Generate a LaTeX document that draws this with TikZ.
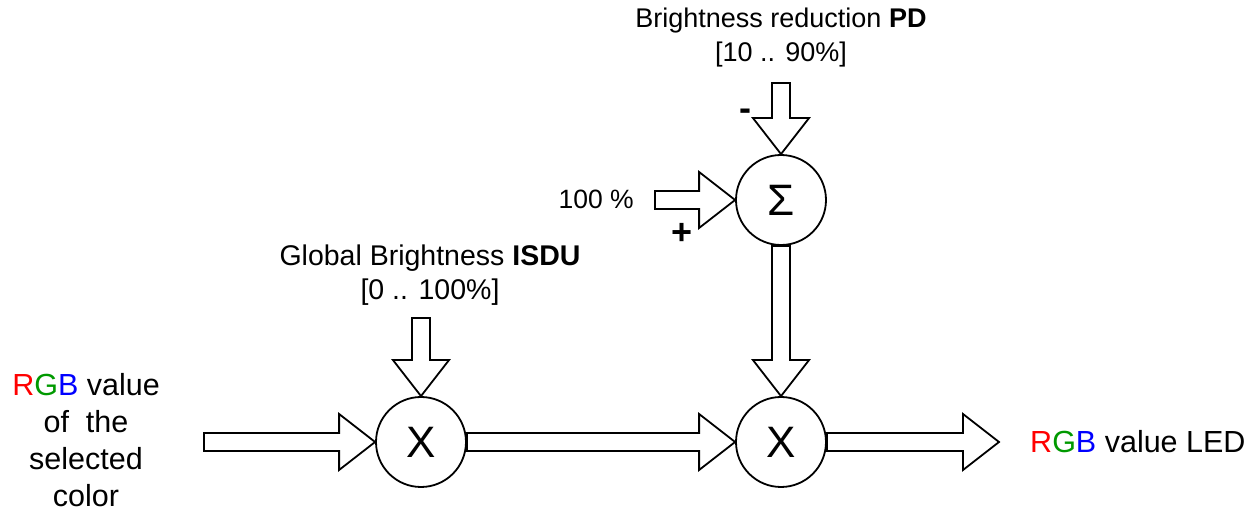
\documentclass[tikz,border=0pt]{standalone}
\usepackage{fontspec}
\setmainfont{Liberation Sans}
\usetikzlibrary{calc}
\definecolor{rgbred}{RGB}{255,0,0}
\definecolor{rgbgreen}{RGB}{0,153,0}
\definecolor{rgbblue}{RGB}{0,0,255}
\newcommand{\rgbword}{\textcolor{rgbred}{R}\textcolor{rgbgreen}{G}\textcolor{rgbblue}{B}}
\begin{document}
\begin{tikzpicture}
  [x=1pt,y=1pt,line width=1.8pt,
   op/.style={circle,draw,minimum size=90pt,inner sep=0pt,font=\fontsize{44}{44}\selectfont},
   lbl/.style={align=center,font=\fontsize{28.5}{34}\selectfont},
   rgbtext/.style={align=center,font=\fontsize{30.5}{37}\selectfont},
   sign/.style={font=\fontsize{36}{36}\selectfont\bfseries},
   fat/.style={to path={let \p1=(\tikztostart), \p2=(\tikztotarget),
      \n1={atan2(\y2-\y1,\x2-\x1)}, \n2={veclen(\x2-\x1,\y2-\y1)} in
      ($(\p1)+(\n1+90:9pt)$) -- ++(\n1:{\n2-36pt}) -- ++(\n1+90:19pt) -- (\p2)
      -- ($(\p2)+(\n1+180:36pt)+(\n1-90:28pt)$) -- ++(\n1+90:19pt)
      -- ++(\n1+180:{\n2-36pt}) -- cycle}}]
  \useasboundingbox (0,0) rectangle (1253,511);

  \node[op] (x1) at (421,69) {X};
  \node[op] (x2) at (781,69) {X};
  \node[op] (sum) at (781,311) {Σ};

  \coordinate (in) at (204,69);
  \coordinate (out) at (999,69);
  \coordinate (isdu) at (421,193);
  \coordinate (pd) at (781,428);
  \coordinate (hundred) at (655,311);

  \foreach \from/\to in {in/x1.west,x1.east/x2.west,x2.east/out,isdu/x1.north,sum.south/x2.north,pd/sum.north,hundred/sum.west}
    \draw (\from) to[fat] (\to);

  % texts
  \node[rgbtext] (src) at (86,71) {\rgbword{} value\\of~ the\\selected\\color};
  \node[rgbtext,anchor=west] (led) at (1026,69) {\rgbword{} value LED};
  \node[lbl] (isdulbl) at (430,236) {Global Brightness \textbf{ISDU}\\{}[0 .. 100\%]};
  \node[lbl,font=\fontsize{27}{34}\selectfont] (pdlbl) at (781,473) {Brightness reduction \textbf{PD}\\{}[10 .. 90\%]};
  \node[lbl,anchor=east,font=\fontsize{26.5}{32}\selectfont] (hundredlbl) at (638,312) {100 \%};
  \node[sign] (plus) at (682,277) {+};
  \node[sign] (minus) at (745.5,396) {-};

\end{tikzpicture}
\end{document}
